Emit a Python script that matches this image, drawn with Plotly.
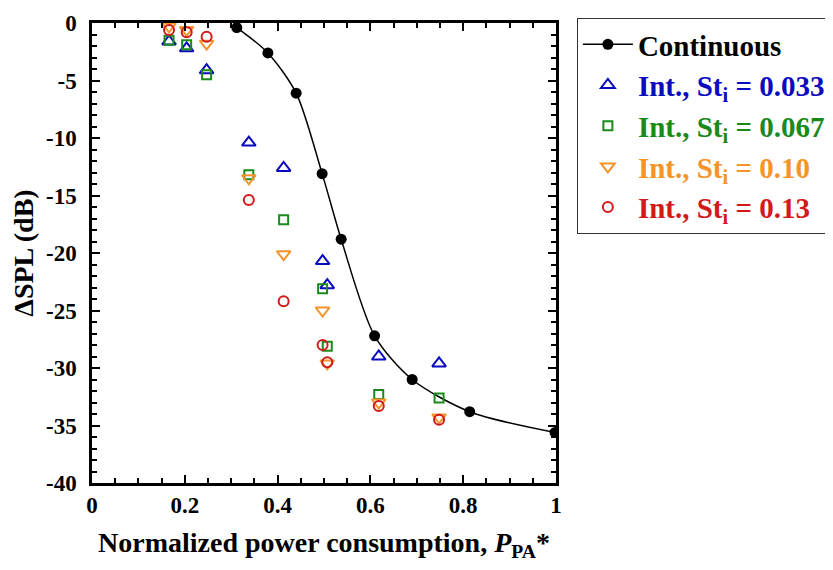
import plotly.graph_objects as go

# Continuous
cont_x = [0.312, 0.379, 0.440, 0.496, 0.537, 0.609, 0.690, 0.814, 0.998]
cont_y = [-0.4, -2.6, -6.1, -13.1, -18.8, -27.2, -31.0, -33.8, -35.6]

# Intermittent
int_x = [0.166, 0.204, 0.247, 0.338, 0.413, 0.497, 0.507, 0.618, 0.748]
st033_y = [-1.6, -2.2, -4.1, -10.4, -12.6, -20.7, -22.8, -29.0, -29.6]
st067_y = [-1.5, -1.9, -4.5, -13.2, -17.1, -23.1, -28.1, -32.3, -32.6]
st010_y = [-0.3, -0.6, -1.8, -13.5, -20.1, -25.0, -29.6, -33.0, -34.3]
st013_y = [-0.6, -0.8, -1.2, -15.4, -24.2, -28.0, -29.5, -33.3, -34.5]

# Tick labels
x_ticks = [0, 0.2, 0.4, 0.6, 0.8, 1]
x_ticklabels = ["0", "0.2", "0.4", "0.6", "0.8", "1"]
y_ticks = [0, -5, -10, -15, -20, -25, -30, -35, -40]
y_ticklabels = ["0", "-5", "-10", "-15", "-20", "-25", "-30", "-35", "-40"]

BLUE = "#0A0ABE"
GREEN = "#1A8A1A"
ORANGE = "#F5942A"
RED = "#D21A1A"
FONT = "Liberation Serif"

fig = go.Figure()
fig.add_trace(go.Scatter(
    x=cont_x, y=cont_y, mode="lines+markers",
    line=dict(color="black", width=1.5, shape="spline", smoothing=0.8),
    marker=dict(color="black", size=11, symbol="circle"),
    name="<b>Continuous</b>"))

series = [
    (st033_y, BLUE, "triangle-up-open", 12, "0.033"),
    (st067_y, GREEN, "square-open", 9, "0.067"),
    (st010_y, ORANGE, "triangle-down-open", 12, "0.10"),
    (st013_y, RED, "circle-open", 10, "0.13"),
]
for ys, col, sym, sz, lab in series:
    fig.add_trace(go.Scatter(
        x=int_x, y=ys, mode="markers",
        marker=dict(color=col, size=sz, symbol=sym, line=dict(width=2, color=col)),
        name=f"<span style='color:{col}'><b>Int., St<sub>i</sub> = {lab}</b></span>"))

axis_common = dict(
    showline=True, linecolor="black", linewidth=2.5, mirror="allticks",
    ticks="inside", ticklen=8, tickwidth=2, tickcolor="black",
    showgrid=False, zeroline=False,
    tickfont=dict(family=FONT, size=23, color="black", weight="bold"),
)

fig.update_xaxes(
    range=[0, 1], tickmode="array", tickvals=x_ticks, ticktext=x_ticklabels,
    minor=dict(dtick=0.05, tick0=0, ticks="inside", ticklen=5, tickwidth=2, tickcolor="black"),
    title=dict(text="<b>Normalized power consumption, <i>P</i><sub>PA</sub>*</b>",
               font=dict(family=FONT, size=28, color="black"), standoff=16),
    ticklabelstandoff=0,
    **axis_common)
fig.update_yaxes(
    range=[-40, 0], tickmode="array", tickvals=y_ticks, ticktext=y_ticklabels,
    minor=dict(dtick=1, tick0=0, ticks="inside", ticklen=5, tickwidth=2, tickcolor="black"),
    title=dict(text="<b>ΔSPL (dB)</b>",
               font=dict(family=FONT, size=28, color="black"), standoff=10),
    ticklabelstandoff=8,
    **axis_common)

fig.update_layout(
    width=833, height=570,
    margin=dict(l=84, r=285, t=15, b=95, autoexpand=False),
    plot_bgcolor="white", paper_bgcolor="white",
    legend=dict(x=1.045, y=1.011, xanchor="left", yanchor="top",
                bordercolor="#333333", borderwidth=1, bgcolor="white",
                font=dict(family=FONT, size=29, color="black"),
                tracegroupgap=0, itemsizing="trace", itemwidth=50),
)

fig.write_html("out.html")
